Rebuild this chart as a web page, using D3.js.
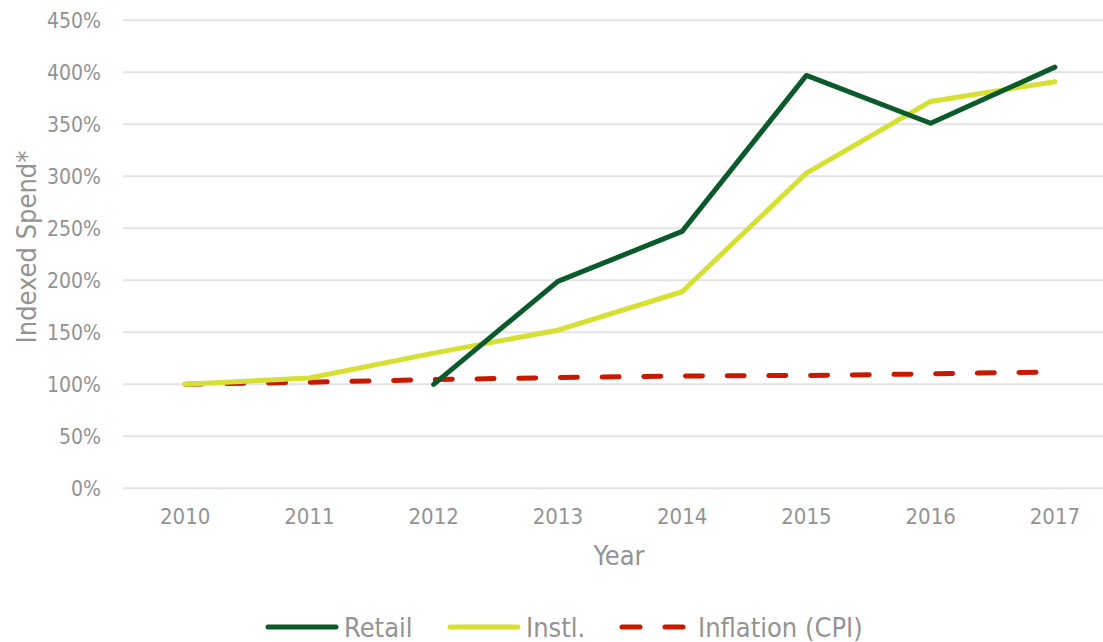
<!DOCTYPE html>
<meta charset="utf-8">
<style>
body { margin: 0; background: #fff; }
text { font-family: "DejaVu Sans Condensed", "DejaVu Sans", sans-serif; fill: #939393; }
.grid line { stroke: #e3e3e3; stroke-width: 2; }
</style>
<body>
<div id="chart"></div>
<script src="https://d3js.org/d3.v7.min.js"></script>
<script>
var width = 1103, height = 642;

var years = ["2010", "2011", "2012", "2013", "2014", "2015", "2016", "2017"];
var retail = [null, null, 100, 199, 247, 397, 351, 405];
var instl = [100, 106, 130, 152, 189, 303, 372, 391];
var cpi = [100, 102, 104.5, 106.5, 108, 108.5, 110, 112];
var yTicks = [0, 50, 100, 150, 200, 250, 300, 350, 400, 450];

var series = [
  { name: "Retail", values: retail, color: "#0b5a2c", dash: null },
  { name: "Instl.", values: instl, color: "#d5e033", dash: null },
  { name: "Inflation (CPI)", values: cpi, color: "#c81800", dash: "17,24.7" }
];

var svg = d3.select("#chart").append("svg")
    .attr("width", width)
    .attr("height", height);

var x = d3.scaleBand()
    .domain(years)
    .range([123, 1117]);

var y = d3.scaleLinear()
    .domain([0, 450])
    .range([488.3, 20.3]);

// gridlines
svg.append("g")
    .attr("class", "grid")
  .selectAll("line")
  .data(yTicks)
  .enter().append("line")
    .attr("x1", x.range()[0])
    .attr("x2", x.range()[1])
    .attr("y1", function(d) { return y(d); })
    .attr("y2", function(d) { return y(d); });

var yAxis = svg.append("g")
    .attr("transform", "translate(123,0)")
    .call(d3.axisLeft(y).tickValues(yTicks).tickSize(0).tickPadding(22)
      .tickFormat(function(d) { return d + "%"; }));
yAxis.select(".domain").remove();
yAxis.selectAll("text")
    .attr("font-size", 21)
    .attr("dy", "0.36em");

var xAxis = svg.append("g")
    .attr("transform", "translate(0,488.3)")
    .call(d3.axisBottom(x).tickSize(0).tickPadding(20));
xAxis.select(".domain").remove();
xAxis.selectAll("text")
    .attr("font-size", 22);

svg.selectAll("text").attr("font-family", null).attr("fill", null);

svg.append("text")
    .attr("x", 619)
    .attr("y", 565)
    .attr("text-anchor", "middle")
    .attr("font-size", 27)
    .text("Year");

svg.append("text")
    .attr("transform", "translate(36,247) rotate(-90)")
    .attr("text-anchor", "middle")
    .attr("font-size", 27)
    .text("Indexed Spend*");

var line = d3.line()
    .defined(function(d) { return d != null; })
    .x(function(d, i) { return x(years[i]) + x.bandwidth() / 2; })
    .y(function(d) { return y(d); });

series.slice().reverse().forEach(function(s) {
  svg.append("path")
    .datum(s.values)
    .attr("fill", "none")
    .attr("stroke", s.color)
    .attr("stroke-width", 5)
    .attr("stroke-linecap", "round")
    .attr("stroke-linejoin", "round")
    .attr("stroke-dasharray", s.dash)
    .attr("d", line);
});

// legend
var legendX = [268, 450, 622];
var lg = svg.selectAll(".legend")
  .data(series)
  .enter().append("g")
    .attr("class", "legend")
    .attr("transform", function(d, i) { return "translate(" + legendX[i] + ",627)"; });

lg.append("line")
    .attr("x1", 0)
    .attr("x2", 68)
    .attr("stroke", function(d) { return d.color; })
    .attr("stroke-width", 5)
    .attr("stroke-linecap", "round")
    .attr("stroke-dasharray", function(d) { return d.dash ? "18,25" : null; });

lg.append("text")
    .attr("x", 76)
    .attr("y", 0)
    .attr("dy", "0.36em")
    .attr("font-size", 27)
    .text(function(d) { return d.name; });
</script>
</body>
